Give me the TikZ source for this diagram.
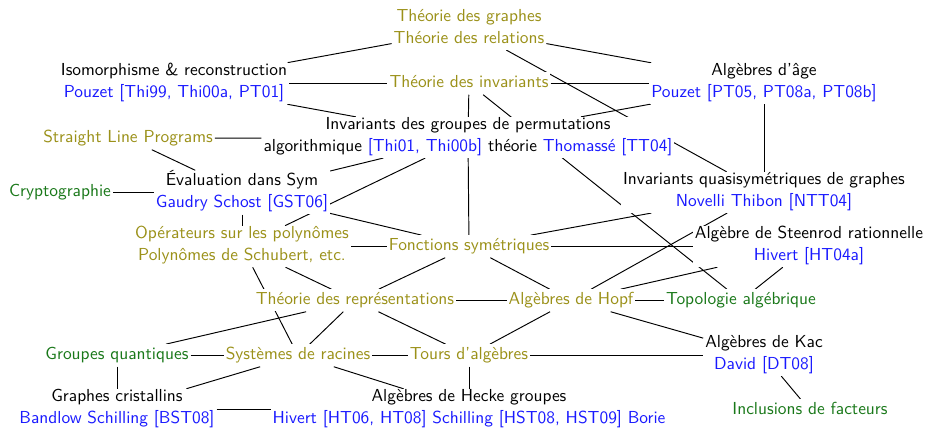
\documentclass[tikz,border=0pt]{standalone}
\usetikzlibrary{backgrounds}
\definecolor{ol}{RGB}{155,145,25}
\definecolor{gr}{RGB}{25,120,25}
\definecolor{bl}{RGB}{25,25,255}
\begin{document}
\begin{tikzpicture}[x=0.575pt,y=-0.575pt,
  nd/.style={fill=white, inner xsep=1pt, inner ysep=0pt, align=center, yshift=-1.4pt,
    font=\sffamily\fontsize{10}{12.6}\selectfont,
    execute at begin node=\strut, execute at end node=\strut},
  oln/.style={nd, text=ol},
  grn/.style={nd, text=gr},
  edge/.style={draw=black, line width=0.55pt}]
\useasboundingbox (0,0) rectangle (926,427);
\node[oln] (TG) at (469,27) {Théorie des graphes\\Théorie des relations};
\node[nd] (Iso) at (174,81) {Isomorphisme \& reconstruction\\\textcolor{bl}{Pouzet [Thi99, Thi00a, PT01]}};
\node[oln] (TI) at (469,81) {Théorie des invariants};
\node[nd] (Age) at (764,81) {Algèbres d'âge\\\textcolor{bl}{Pouzet [PT05, PT08a, PT08b]}};
\node[nd] (Inv) at (468,135) {Invariants des groupes de permutations\\algorithmique \textcolor{bl}{[Thi01, Thi00b]} théorie \textcolor{bl}{Thomassé [TT04]}};
\node[oln] (SLP) at (128,136) {Straight Line Programs};
\node[nd] (Eval) at (242,190) {Évaluation dans Sym\\\textcolor{bl}{Gaudry Schost [GST06]}};
\node[grn] (Crypt) at (60,190) {Cryptographie};
\node[oln] (Op) at (242,244) {Opérateurs sur les polynômes\\Polynômes de Schubert, etc.};
\node[oln] (FS) at (469,244) {Fonctions symétriques};
\node[nd] (IQS) at (764,190) {Invariants quasisymétriques de graphes\\\textcolor{bl}{Novelli Thibon [NTT04]}};
\node[nd] (Steen) at (809,244) {Algèbre de Steenrod rationnelle\\\textcolor{bl}{Hivert [HT04a]}};
\node[oln] (TR) at (355,298) {Théorie des représentations};
\node[oln] (Hopf) at (571,298) {Algèbres de Hopf};
\node[grn] (Topo) at (741,298) {Topologie algébrique};
\node[grn] (GQ) at (117,353) {Groupes quantiques};
\node[oln] (SR) at (298,353) {Systèmes de racines};
\node[oln] (Tours) at (469,353) {Tours d'algèbres};
\node[nd] (Kac) at (764,353) {Algèbres de Kac\\\textcolor{bl}{David [DT08]}};
\node[nd] (GC) at (117,407) {Graphes cristallins\\\textcolor{bl}{Bandlow Schilling [BST08]}};
\node[nd] (Hecke) at (469,407) {Algèbres de Hecke groupes\\\textcolor{bl}{Hivert [HT06, HT08] Schilling [HST08, HST09] Borie}};
\node[grn] (Incl) at (810,408) {Inclusions de facteurs};
\begin{scope}[on background layer]
\foreach \a/\b in {Iso/TG, TG/Age, TG/IQS, Iso/TI, TI/Age, Iso/Inv, TI/Inv, TI/Topo,
  Age/IQS, Age/Inv, SLP/Inv, SLP/Eval, Crypt/Eval, Eval/Inv, Op/Inv, Eval/Op, Eval/FS,
  Op/FS, Inv/FS, FS/Steen, FS/IQS, Hopf/IQS, Hopf/Steen, Topo/Steen, Op/SR, Op/TR,
  TR/Tours, FS/TR, FS/Hopf, TR/Hopf, Hopf/Topo, TR/GQ, TR/SR, Hopf/Tours, Hopf/Kac,
  Tours/Kac, GQ/SR, SR/Tours, GQ/GC, SR/GC, SR/Hecke, Tours/Hecke, GC/Hecke, Kac/Incl}
  \draw[edge] (\a) -- (\b);
\end{scope}
\end{tikzpicture}
\end{document}
